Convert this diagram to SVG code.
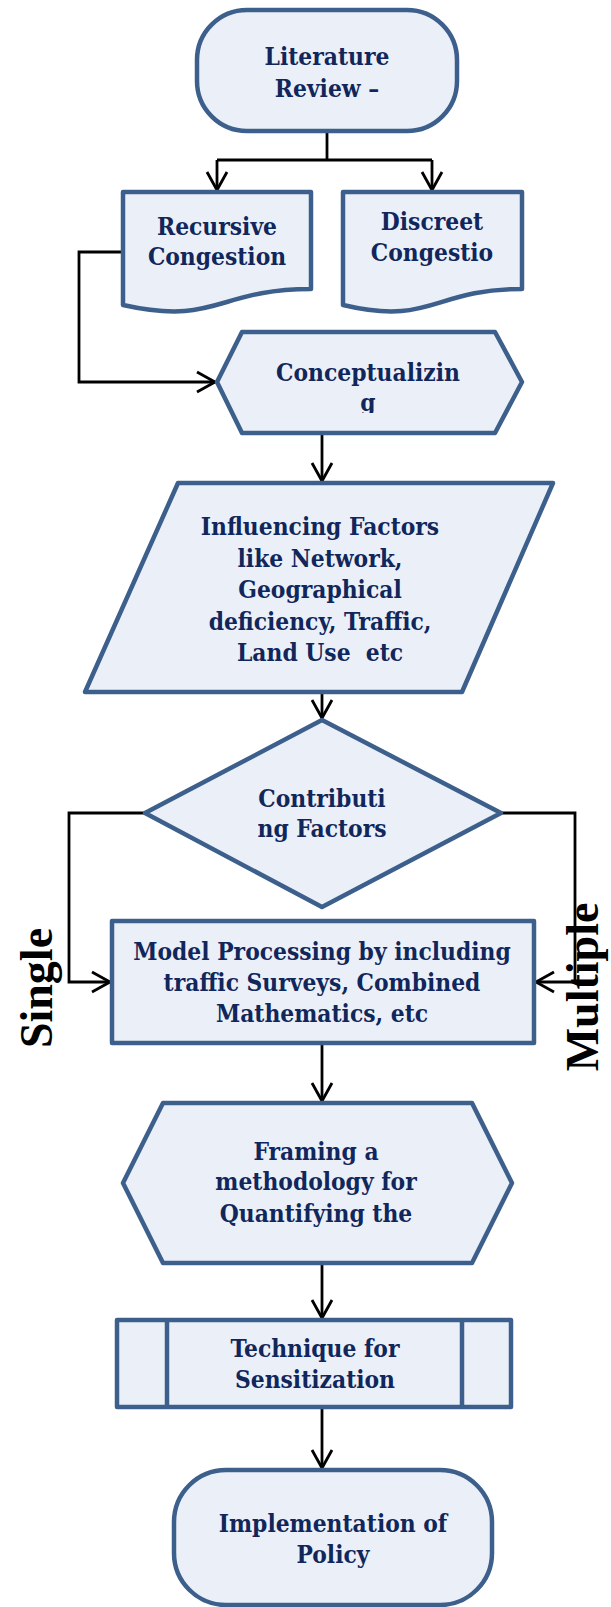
<svg xmlns="http://www.w3.org/2000/svg" width="611" height="1607" viewBox="0 0 611 1607">
<style>
.n{fill:#ebf0f8;stroke:#3c5f8c;stroke-width:4.5;stroke-linejoin:round}
.t{font-family:"DejaVu Serif Condensed","DejaVu Serif","Liberation Serif",serif;font-stretch:condensed;font-weight:bold;font-size:24.3px;fill:#11275c;text-anchor:middle}
.c{fill:none;stroke:#000;stroke-width:2.8}
.lab{font-family:"Liberation Serif","Times New Roman",serif;font-weight:bold;font-size:46px;fill:#000;text-anchor:middle}
</style>
<defs>
<marker id="ah" markerUnits="userSpaceOnUse" markerWidth="30" markerHeight="30" refX="0" refY="0" viewBox="-20 -15 25 30" orient="auto" overflow="visible">
<path d="M-18,-10 L0,0 L-18,10" fill="none" stroke="#000" stroke-width="2.8"/>
</marker>
<clipPath id="cg"><rect x="200" y="330" width="340" height="83"/></clipPath>
</defs>
<g id="connectors">
<path class="c" d="M327,131 V160"/>
<path class="c" d="M217,160 H432"/>
<path class="c" d="M217,160 V190" marker-end="url(#ah)"/>
<path class="c" d="M432,160 V190" marker-end="url(#ah)"/>
<path class="c" d="M123,252 H79 V382 H215" marker-end="url(#ah)"/>
<path class="c" d="M322,433 V481" marker-end="url(#ah)"/>
<path class="c" d="M322,692 V718" marker-end="url(#ah)"/>
<path class="c" d="M145,813 H69 V982 H110" marker-end="url(#ah)"/>
<path class="c" d="M501,813 H575 V982 H536" marker-end="url(#ah)"/>
<path class="c" d="M322,1043 V1101" marker-end="url(#ah)"/>
<path class="c" d="M322,1263 V1318" marker-end="url(#ah)"/>
<path class="c" d="M322,1407 V1468" marker-end="url(#ah)"/>
</g>
<g id="n1">
<rect class="n" x="197" y="10" width="260" height="121" rx="50" ry="50"/>
<text class="t" x="327" y="65">Literature</text>
<text class="t" x="327" y="97">Review –</text>
</g>
<g id="n2">
<path class="n" d="M123,192 H311 V289 C217,289 217,326 123,305 Z"/>
<text class="t" x="217" y="235">Recursive</text>
<text class="t" x="217" y="265">Congestion</text>
</g>
<g id="n3">
<path class="n" d="M343,192 H522 V289 C432,289 432,326 343,305 Z"/>
<text class="t" x="432" y="230">Discreet</text>
<text class="t" x="432" y="261">Congestio</text>
</g>
<g id="n4">
<polygon class="n" points="217,382 242,332 495,332 522,382 495,433 242,433"/>
<text class="t" x="368" y="381">Conceptualizin</text>
<text class="t" x="368" y="411" clip-path="url(#cg)">g</text>
</g>
<g id="n5">
<polygon class="n" points="178,483 553,483 462,692 85,692"/>
<text class="t" x="320" y="535">Influencing Factors</text>
<text class="t" x="320" y="567">like Network,</text>
<text class="t" x="320" y="598">Geographical</text>
<text class="t" x="320" y="630">deficiency, Traffic,</text>
<text class="t" x="320" y="661" xml:space="preserve">Land Use  etc</text>
</g>
<g id="n6">
<polygon class="n" points="322,720 501,813 322,907 145,813"/>
<text class="t" x="322" y="807">Contributi</text>
<text class="t" x="322" y="837">ng Factors</text>
</g>
<g id="n7">
<rect class="n" x="112" y="921" width="422" height="122"/>
<text class="t" x="322" y="960">Model Processing by including</text>
<text class="t" x="322" y="991">traffic Surveys, Combined</text>
<text class="t" x="322" y="1022">Mathematics, etc</text>
</g>
<g id="n8">
<polygon class="n" points="123,1183 163,1103 472,1103 512,1183 472,1263 163,1263"/>
<text class="t" x="316" y="1160">Framing a</text>
<text class="t" x="316" y="1190">methodology for</text>
<text class="t" x="316" y="1222">Quantifying the</text>
</g>
<g id="n9">
<rect class="n" x="117" y="1320" width="394" height="87"/>
<line class="n" x1="167" y1="1320" x2="167" y2="1407"/>
<line class="n" x1="462" y1="1320" x2="462" y2="1407"/>
<text class="t" x="315" y="1357">Technique for</text>
<text class="t" x="315" y="1388">Sensitization</text>
</g>
<g id="n10">
<rect class="n" x="174" y="1470" width="318" height="135" rx="52" ry="52"/>
<text class="t" x="333" y="1532">Implementation of</text>
<text class="t" x="333" y="1563">Policy</text>
</g>
<g id="labels">
<text class="lab" transform="translate(52,988) rotate(-90)">Single</text>
<text class="lab" transform="translate(598,987) rotate(-90)">Multiple</text>
</g>
</svg>
